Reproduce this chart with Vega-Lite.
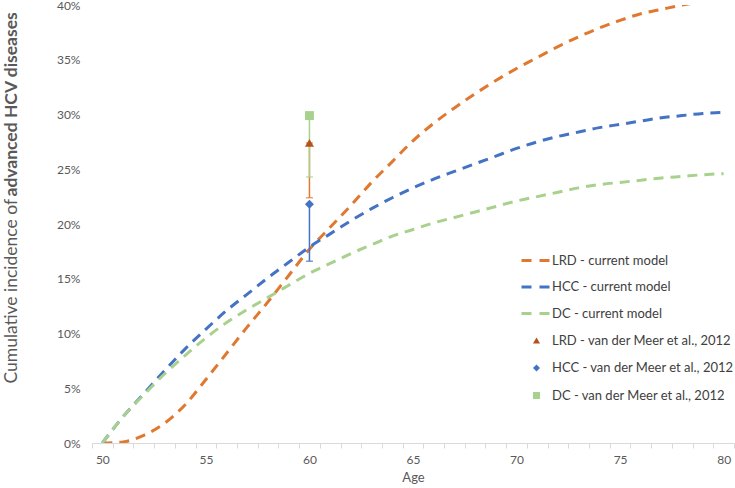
{
  "$schema": "https://vega.github.io/schema/vega-lite/v6.json",
  "width": 642,
  "height": 438,
  "autosize": {"type": "none"},
  "padding": {"left": 92, "top": 5, "right": 1, "bottom": 45},
  "background": "white",
  "config": {
    "view": {"stroke": null},
    "font": "Lato",
    "axis": {"grid": false, "labelColor": "#595959", "titleColor": "#595959", "labelFont": "Lato", "titleFont": "Lato"},
    "legend": {"labelFont": "Lato", "labelFontSize": 13, "labelColor": "#404040", "labelLimit": 400}
  },
  "datasets": {
    "curves": [
      {"age": 50, "series": "LRD - current model", "value": 0},
      {"age": 51, "series": "LRD - current model", "value": 0.1},
      {"age": 52, "series": "LRD - current model", "value": 0.7},
      {"age": 53, "series": "LRD - current model", "value": 1.8},
      {"age": 54, "series": "LRD - current model", "value": 3.5},
      {"age": 55, "series": "LRD - current model", "value": 5.8},
      {"age": 56, "series": "LRD - current model", "value": 8.2},
      {"age": 57, "series": "LRD - current model", "value": 10.6},
      {"age": 58, "series": "LRD - current model", "value": 12.9},
      {"age": 59, "series": "LRD - current model", "value": 15.3},
      {"age": 60, "series": "LRD - current model", "value": 17.7},
      {"age": 61, "series": "LRD - current model", "value": 19.7},
      {"age": 62, "series": "LRD - current model", "value": 21.7},
      {"age": 63, "series": "LRD - current model", "value": 23.8},
      {"age": 64, "series": "LRD - current model", "value": 25.7},
      {"age": 65, "series": "LRD - current model", "value": 27.6},
      {"age": 66, "series": "LRD - current model", "value": 29.2},
      {"age": 67, "series": "LRD - current model", "value": 30.6},
      {"age": 68, "series": "LRD - current model", "value": 31.9},
      {"age": 69, "series": "LRD - current model", "value": 33.1},
      {"age": 70, "series": "LRD - current model", "value": 34.2},
      {"age": 71, "series": "LRD - current model", "value": 35.2},
      {"age": 72, "series": "LRD - current model", "value": 36.2},
      {"age": 73, "series": "LRD - current model", "value": 37.1},
      {"age": 74, "series": "LRD - current model", "value": 37.9},
      {"age": 75, "series": "LRD - current model", "value": 38.6},
      {"age": 76, "series": "LRD - current model", "value": 39.2},
      {"age": 77, "series": "LRD - current model", "value": 39.6},
      {"age": 78, "series": "LRD - current model", "value": 40.0},
      {"age": 79, "series": "LRD - current model", "value": 40.3},
      {"age": 80, "series": "LRD - current model", "value": 40.5},
      {"age": 50, "series": "HCC - current model", "value": 0},
      {"age": 51, "series": "HCC - current model", "value": 2.4},
      {"age": 52, "series": "HCC - current model", "value": 4.5},
      {"age": 53, "series": "HCC - current model", "value": 6.6},
      {"age": 54, "series": "HCC - current model", "value": 8.6},
      {"age": 55, "series": "HCC - current model", "value": 10.4},
      {"age": 56, "series": "HCC - current model", "value": 12.1},
      {"age": 57, "series": "HCC - current model", "value": 13.6},
      {"age": 58, "series": "HCC - current model", "value": 15.1},
      {"age": 59, "series": "HCC - current model", "value": 16.5},
      {"age": 60, "series": "HCC - current model", "value": 17.9},
      {"age": 61, "series": "HCC - current model", "value": 19.1},
      {"age": 62, "series": "HCC - current model", "value": 20.3},
      {"age": 63, "series": "HCC - current model", "value": 21.4},
      {"age": 64, "series": "HCC - current model", "value": 22.4},
      {"age": 65, "series": "HCC - current model", "value": 23.3},
      {"age": 66, "series": "HCC - current model", "value": 24.1},
      {"age": 67, "series": "HCC - current model", "value": 24.8},
      {"age": 68, "series": "HCC - current model", "value": 25.5},
      {"age": 69, "series": "HCC - current model", "value": 26.2},
      {"age": 70, "series": "HCC - current model", "value": 26.9},
      {"age": 71, "series": "HCC - current model", "value": 27.5},
      {"age": 72, "series": "HCC - current model", "value": 28.0},
      {"age": 73, "series": "HCC - current model", "value": 28.4},
      {"age": 74, "series": "HCC - current model", "value": 28.8},
      {"age": 75, "series": "HCC - current model", "value": 29.1},
      {"age": 76, "series": "HCC - current model", "value": 29.4},
      {"age": 77, "series": "HCC - current model", "value": 29.7},
      {"age": 78, "series": "HCC - current model", "value": 29.9},
      {"age": 79, "series": "HCC - current model", "value": 30.1},
      {"age": 80, "series": "HCC - current model", "value": 30.2},
      {"age": 50, "series": "DC - current model", "value": 0},
      {"age": 51, "series": "DC - current model", "value": 2.4},
      {"age": 52, "series": "DC - current model", "value": 4.4},
      {"age": 53, "series": "DC - current model", "value": 6.3},
      {"age": 54, "series": "DC - current model", "value": 8.0},
      {"age": 55, "series": "DC - current model", "value": 9.6},
      {"age": 56, "series": "DC - current model", "value": 11.0},
      {"age": 57, "series": "DC - current model", "value": 12.2},
      {"age": 58, "series": "DC - current model", "value": 13.3},
      {"age": 59, "series": "DC - current model", "value": 14.4},
      {"age": 60, "series": "DC - current model", "value": 15.5},
      {"age": 61, "series": "DC - current model", "value": 16.4},
      {"age": 62, "series": "DC - current model", "value": 17.3},
      {"age": 63, "series": "DC - current model", "value": 18.1},
      {"age": 64, "series": "DC - current model", "value": 18.9},
      {"age": 65, "series": "DC - current model", "value": 19.5},
      {"age": 66, "series": "DC - current model", "value": 20.1},
      {"age": 67, "series": "DC - current model", "value": 20.6},
      {"age": 68, "series": "DC - current model", "value": 21.1},
      {"age": 69, "series": "DC - current model", "value": 21.6},
      {"age": 70, "series": "DC - current model", "value": 22.1},
      {"age": 71, "series": "DC - current model", "value": 22.5},
      {"age": 72, "series": "DC - current model", "value": 22.9},
      {"age": 73, "series": "DC - current model", "value": 23.3},
      {"age": 74, "series": "DC - current model", "value": 23.6},
      {"age": 75, "series": "DC - current model", "value": 23.8},
      {"age": 76, "series": "DC - current model", "value": 24.0},
      {"age": 77, "series": "DC - current model", "value": 24.2},
      {"age": 78, "series": "DC - current model", "value": 24.35},
      {"age": 79, "series": "DC - current model", "value": 24.5},
      {"age": 80, "series": "DC - current model", "value": 24.6}
    ],
    "obs": [
      {"age": 60, "series": "LRD - van der Meer et al., 2012", "value": 27.4, "lower": 22.4},
      {"age": 60, "series": "HCC - van der Meer et al., 2012", "value": 21.8, "lower": 16.6},
      {"age": 60, "series": "DC - van der Meer et al., 2012", "value": 29.9, "lower": 24.3}
    ]
  },
  "encoding": {
    "x": {
      "field": "age", "type": "quantitative",
      "scale": {"domain": [49.5, 80.5], "nice": false, "zero": false},
      "axis": {
        "values": [49.5, 50.5, 51.5, 52.5, 53.5, 54.5, 55.5, 56.5, 57.5, 58.5, 59.5, 60.5, 61.5, 62.5, 63.5, 64.5, 65.5, 66.5, 67.5, 68.5, 69.5, 70.5, 71.5, 72.5, 73.5, 74.5, 75.5, 76.5, 77.5, 78.5, 79.5, 80.5],
        "labelExpr": "(datum.value + 0.5) % 5 == 0 ? '' + (datum.value + 0.5) : ''",
        "labelOffset": 10.35,
        "labelFlush": false,
        "labelOverlap": false,
        "labelBound": false,
        "tickSize": 5,
        "tickColor": "#D9D9D9",
        "domainColor": "#D9D9D9",
        "labelFontSize": 12,
        "labelPadding": 6,
        "title": "Age",
        "titleFontSize": 13,
        "titleFontWeight": "normal",
        "titlePadding": 6
      }
    }
  },
  "layer": [
    {
      "data": {"name": "curves"},
      "mark": {"type": "line", "interpolate": "monotone", "strokeWidth": 3, "strokeDash": [10, 7], "strokeCap": "butt", "clip": true},
      "encoding": {
        "y": {
          "field": "value", "type": "quantitative",
          "scale": {"domain": [0, 40], "nice": false},
          "axis": {
            "values": [0, 5, 10, 15, 20, 25, 30, 35, 40],
            "labelExpr": "datum.value + '%'",
            "domain": false,
            "ticks": false,
            "labelPadding": 12,
            "labelFontSize": 12,
            "title": "Cumulative incidence of",
            "titleFontSize": 17.5,
            "titleFontWeight": "normal",
            "titleAngle": 270,
            "titleAlign": "left",
            "titleBaseline": "middle",
            "titleX": -81,
            "titleY": 378
          }
        },
        "stroke": {
          "field": "series", "type": "nominal",
          "scale": {"domain": ["LRD - current model", "HCC - current model", "DC - current model"], "range": ["#E07830", "#4472C4", "#A9D18E"]},
          "legend": {"title": null, "orient": "none", "legendX": 428, "legendY": 240, "symbolType": "stroke", "symbolSize": 784, "symbolStrokeWidth": 3, "symbolDash": [10, 8], "labelOffset": 1, "rowPadding": 3.5, "padding": 0}
        }
      }
    },
    {
      "data": {"name": "obs"},
      "transform": [{"filter": "datum.series == 'LRD - van der Meer et al., 2012'"}],
      "mark": {"type": "errorbar", "ticks": {"size": 7}, "thickness": 1.5, "color": "#E07830"},
      "encoding": {
        "y": {"field": "lower", "type": "quantitative", "axis": null},
        "y2": {"field": "value"}
      }
    },
    {
      "data": {"name": "obs"},
      "transform": [{"filter": "datum.series == 'HCC - van der Meer et al., 2012'"}],
      "mark": {"type": "errorbar", "ticks": {"size": 7}, "thickness": 1.5, "color": "#4472C4"},
      "encoding": {
        "y": {"field": "lower", "type": "quantitative", "axis": null},
        "y2": {"field": "value"}
      }
    },
    {
      "data": {"name": "obs"},
      "transform": [{"filter": "datum.series == 'DC - van der Meer et al., 2012'"}],
      "mark": {"type": "errorbar", "ticks": {"size": 7}, "thickness": 1.5, "color": "#A9D18E"},
      "encoding": {
        "y": {"field": "lower", "type": "quantitative", "axis": null},
        "y2": {"field": "value"}
      }
    },
    {
      "data": {"name": "obs"},
      "mark": {"type": "point", "filled": true, "size": 80, "opacity": 1},
      "encoding": {
        "y": {
          "field": "value", "type": "quantitative",
          "axis": {
            "orient": "left",
            "labels": false, "ticks": false, "domain": false, "grid": false,
            "title": "advanced HCV diseases",
            "titleFontSize": 17.5,
            "titleFontWeight": "bold",
            "titleAngle": 270,
            "titleAlign": "left",
            "titleBaseline": "middle",
            "titleX": -81,
            "titleY": 191
          }
        },
        "fill": {
          "field": "series", "type": "nominal",
          "scale": {"domain": ["LRD - van der Meer et al., 2012", "HCC - van der Meer et al., 2012", "DC - van der Meer et al., 2012"], "range": ["#B5521B", "#4472C4", "#A9D18E"]},
          "legend": {"title": null, "orient": "none", "legendX": 438, "legendY": 329, "symbolSize": 50, "labelOffset": 9, "rowPadding": 12.5, "padding": 0}
        },
        "shape": {
          "field": "series", "type": "nominal",
          "scale": {"domain": ["LRD - van der Meer et al., 2012", "HCC - van der Meer et al., 2012", "DC - van der Meer et al., 2012"], "range": ["triangle-up", "diamond", "square"]},
          "legend": {"title": null, "orient": "none", "legendX": 438, "legendY": 329, "symbolSize": 50, "labelOffset": 9, "rowPadding": 12.5, "padding": 0}
        }
      }
    }
  ],
  "resolve": {"axis": {"y": "independent"}}
}
